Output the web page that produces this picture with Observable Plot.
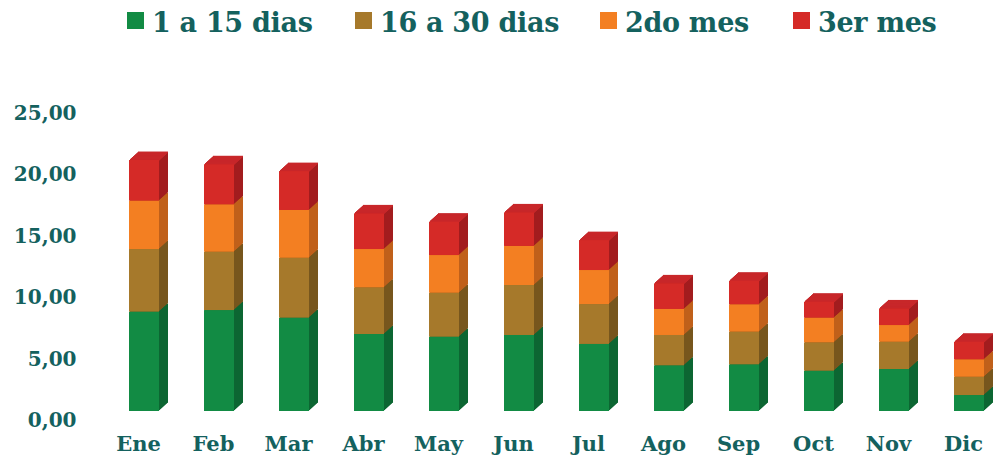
<!DOCTYPE html>
<html>
<head>
<meta charset="utf-8">
<script src="https://cdn.jsdelivr.net/npm/d3@7"></script>
<script src="https://cdn.jsdelivr.net/npm/@observablehq/plot@0.6"></script>
<style>
  html, body { margin: 0; padding: 0; background: #fff; width: 995px; height: 458px; overflow: hidden; }
  #legend { height: 55px; position: relative; font-family: "DejaVu Serif", serif; font-weight: bold; font-size: 27px; color: #14615e; }
  .item { position: absolute; top: 7px; display: flex; align-items: flex-start; white-space: nowrap; letter-spacing: -0.3px; line-height: 32px; }
  .sw { width: 17px; height: 17px; margin-right: 8px; margin-top: 5px; }
</style>
</head>
<body>
<div id="legend"></div>
<div id="chart"></div>
<script>
const months = ["Ene","Feb","Mar","Abr","May","Jun","Jul","Ago","Sep","Oct","Nov","Dic"];
const seriesNames = ["1 a 15 dias","16 a 30 dias","2do mes","3er mes"];
const dias1a15  = [8.09, 8.22, 7.60, 6.27, 6.05, 6.19, 5.46, 3.72, 3.80, 3.28, 3.42, 1.30];
const dias16a30 = [5.10, 4.75, 4.88, 3.80, 3.58, 4.07, 3.25, 2.47, 2.66, 2.31, 2.22, 1.49];
const mes2do    = [3.94, 3.86, 3.89, 3.12, 3.07, 3.18, 2.77, 2.12, 2.23, 2.01, 1.36, 1.42];
const mes3er    = [3.31, 3.27, 3.17, 2.91, 2.72, 2.74, 2.44, 2.09, 1.92, 1.30, 1.36, 1.43];
const yTicks = [0, 5, 10, 15, 20, 25];
const yTickLabels = ["0,00", "5,00", "10,00", "15,00", "20,00", "25,00"];

const frontColors = ["#128b44", "#a6792b", "#f37f22", "#d52a27"];
const sideColors  = ["#0c6632", "#77561d", "#c0601a", "#a21c1e"];
const topColor = "#c8272a";
const ink = "#14615e";

// legend
const legendX = [127, 355, 600, 793];
const legend = d3.select("#legend");
seriesNames.forEach((name, i) => {
  const it = legend.append("div").attr("class", "item").style("left", legendX[i] + "px");
  it.append("div").attr("class", "sw").style("background", frontColors[i]);
  it.append("span").text(name);
});

// table
const seriesValues = [dias1a15, dias16a30, mes2do, mes3er];
const rows = [];
months.forEach((m, j) => {
  let acc = 0;
  seriesValues.forEach((vals, s) => {
    rows.push({month: m, series: s, y1: acc, y2: acc + vals[j]});
    acc += vals[j];
  });
});

const depth = 9;
const marks = [];
for (let i = depth; i >= 1; i--) {
  for (let s = 0; s < 4; s++) {
    marks.push(Plot.barY(rows.filter(d => d.series === s), {
      x: "month", y1: "y1", y2: "y2", fill: sideColors[s], dx: i, dy: -i * 0.9
    }));
  }
}
const tops = rows.filter(d => d.series === 3);
for (let i = 1; i <= depth; i++) {
  marks.push(Plot.tickY(tops, {x: "month", y: "y2", stroke: topColor, strokeWidth: 1.6, dx: i, dy: -i * 0.9}));
}
for (let s = 0; s < 4; s++) {
  marks.push(Plot.barY(rows.filter(d => d.series === s), {
    x: "month", y1: "y1", y2: "y2", fill: frontColors[s]
  }));
}
marks.push(Plot.axisY({
  ticks: yTicks, tickSize: 0, tickPadding: 44, dy: 9,
  tickFormat: d => yTickLabels[yTicks.indexOf(d)],
  fontSize: 20, fontWeight: "bold", fill: ink, label: null
}));
marks.push(Plot.axisX({
  tickSize: 0, tickPadding: 25, dx: -6, fontSize: 21, fontWeight: "bold", fill: ink, label: null
}));

const chart = Plot.plot({
  width: 995,
  height: 403,
  marginTop: 49,
  marginBottom: 47,
  marginLeft: 120,
  marginRight: 3,
  style: {fontFamily: "DejaVu Serif, serif", background: "#fff", overflow: "visible"},
  x: {domain: months, paddingInner: 0.6, paddingOuter: 0.1},
  y: {domain: [0, 25]},
  marks
});
document.getElementById("chart").appendChild(chart);
</script>
</body>
</html>
